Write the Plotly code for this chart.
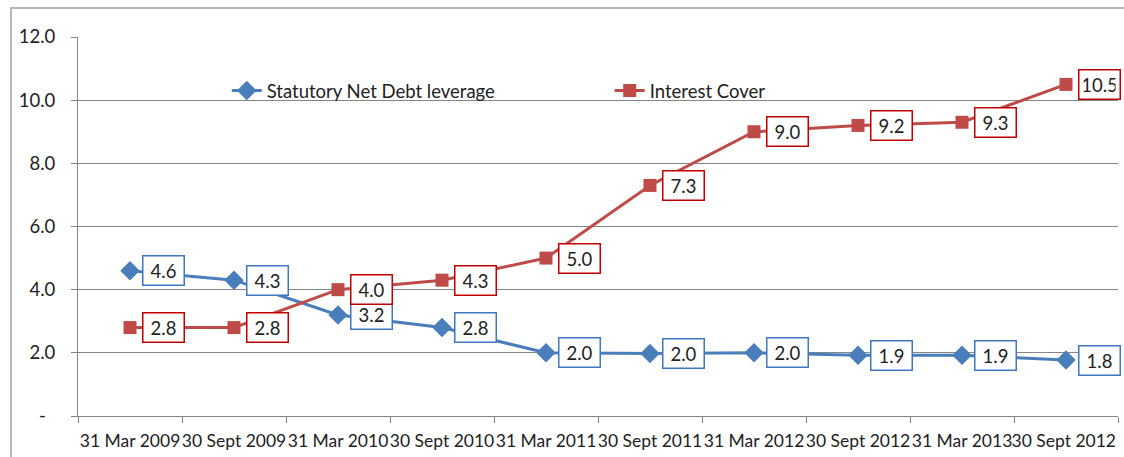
import plotly.graph_objects as go

categories = ["31 Mar 2009", "30 Sept 2009", "31 Mar 2010", "30 Sept 2010", "31 Mar 2011",
              "30 Sept 2011", "31 Mar 2012", "30 Sept 2012", "31 Mar 2013", "30 Sept 2012 "]
leverage = [4.6, 4.3, 3.2, 2.8, 2.0, 1.98, 2.0, 1.92, 1.92, 1.77]
interest_cover = [2.8, 2.8, 4.0, 4.3, 5.0, 7.3, 9.0, 9.2, 9.3, 10.5]
ytick_vals = [0, 2, 4, 6, 8, 10, 12]
ytick_text = ["-\u00a0\u00a0", "2.0", "4.0", "6.0", "8.0", "10.0", "12.0"]

BLUE = "#4A7EBB"
RED = "#BE4B48"
FONT = "Lato"
FS = 18.5

fig = go.Figure()
fig.add_trace(go.Scatter(x=categories, y=leverage, mode="lines+markers",
                         name="Statutory Net Debt leverage",
                         line=dict(color=BLUE, width=3),
                         marker=dict(symbol="diamond", size=15, color=BLUE)))
fig.add_trace(go.Scatter(x=categories, y=interest_cover, mode="lines+markers",
                         name="Interest Cover",
                         line=dict(color=RED, width=3),
                         marker=dict(symbol="square", size=13, color=RED)))

annotations = []
for c, v in zip(categories, leverage):
    annotations.append(dict(x=c, y=v, text=f"{v:.1f}", showarrow=False, xshift=33,
                            width=32, height=20,
                            bgcolor="white", bordercolor="#3F78C0", borderwidth=1.5,
                            borderpad=4, font=dict(family=FONT, size=FS, color="#222")))
for c, v in zip(categories, interest_cover):
    annotations.append(dict(x=c, y=v, text=f"{v:.1f}", showarrow=False, xshift=33,
                            width=32, height=20,
                            bgcolor="white", bordercolor="#C00000", borderwidth=1.5,
                            borderpad=4, font=dict(family=FONT, size=FS, color="#222")))

fig.update_layout(
    width=1124, height=457,
    margin=dict(l=78, r=6, t=37, b=41),
    paper_bgcolor="white", plot_bgcolor="white",
    font=dict(family=FONT, size=FS, color="#222"),
    showlegend=True,
    legend=dict(orientation="h", x=0.143, y=0.8575, xanchor="left", yanchor="middle",
                entrywidth=338, entrywidthmode="pixels", bgcolor="rgba(0,0,0,0)",
                font=dict(family=FONT, size=FS, color="#222")),
    annotations=annotations,
    shapes=[dict(type="rect", xref="paper", yref="paper", x0=(11 - 78) / 1040, x1=1.1,
                 y0=-0.3, y1=1 + 29 / 379, line=dict(color="#A0A0A0", width=1.5),
                 fillcolor="rgba(0,0,0,0)", layer="below")],
)
fig.update_xaxes(type="category", range=[-0.5, 9.5], tickson="boundaries", ticks="outside",
                 ticklen=6, tickcolor="#868686", showline=True, linecolor="#868686",
                 linewidth=1, showgrid=False, tickangle=0, automargin=False,
                 ticklabelstandoff=9,
                 tickfont=dict(family=FONT, size=17.5, color="#222"))
fig.update_yaxes(range=[0, 12], tickvals=ytick_vals, ticktext=ytick_text, ticks="outside",
                 ticklen=6, tickcolor="#868686", showline=True, linecolor="#868686",
                 linewidth=1, showgrid=True, gridcolor="#868686", gridwidth=1,
                 zeroline=False, automargin=False, ticklabelstandoff=12,
                 tickfont=dict(family=FONT, size=FS, color="#222"))

fig.write_html("out.html")
